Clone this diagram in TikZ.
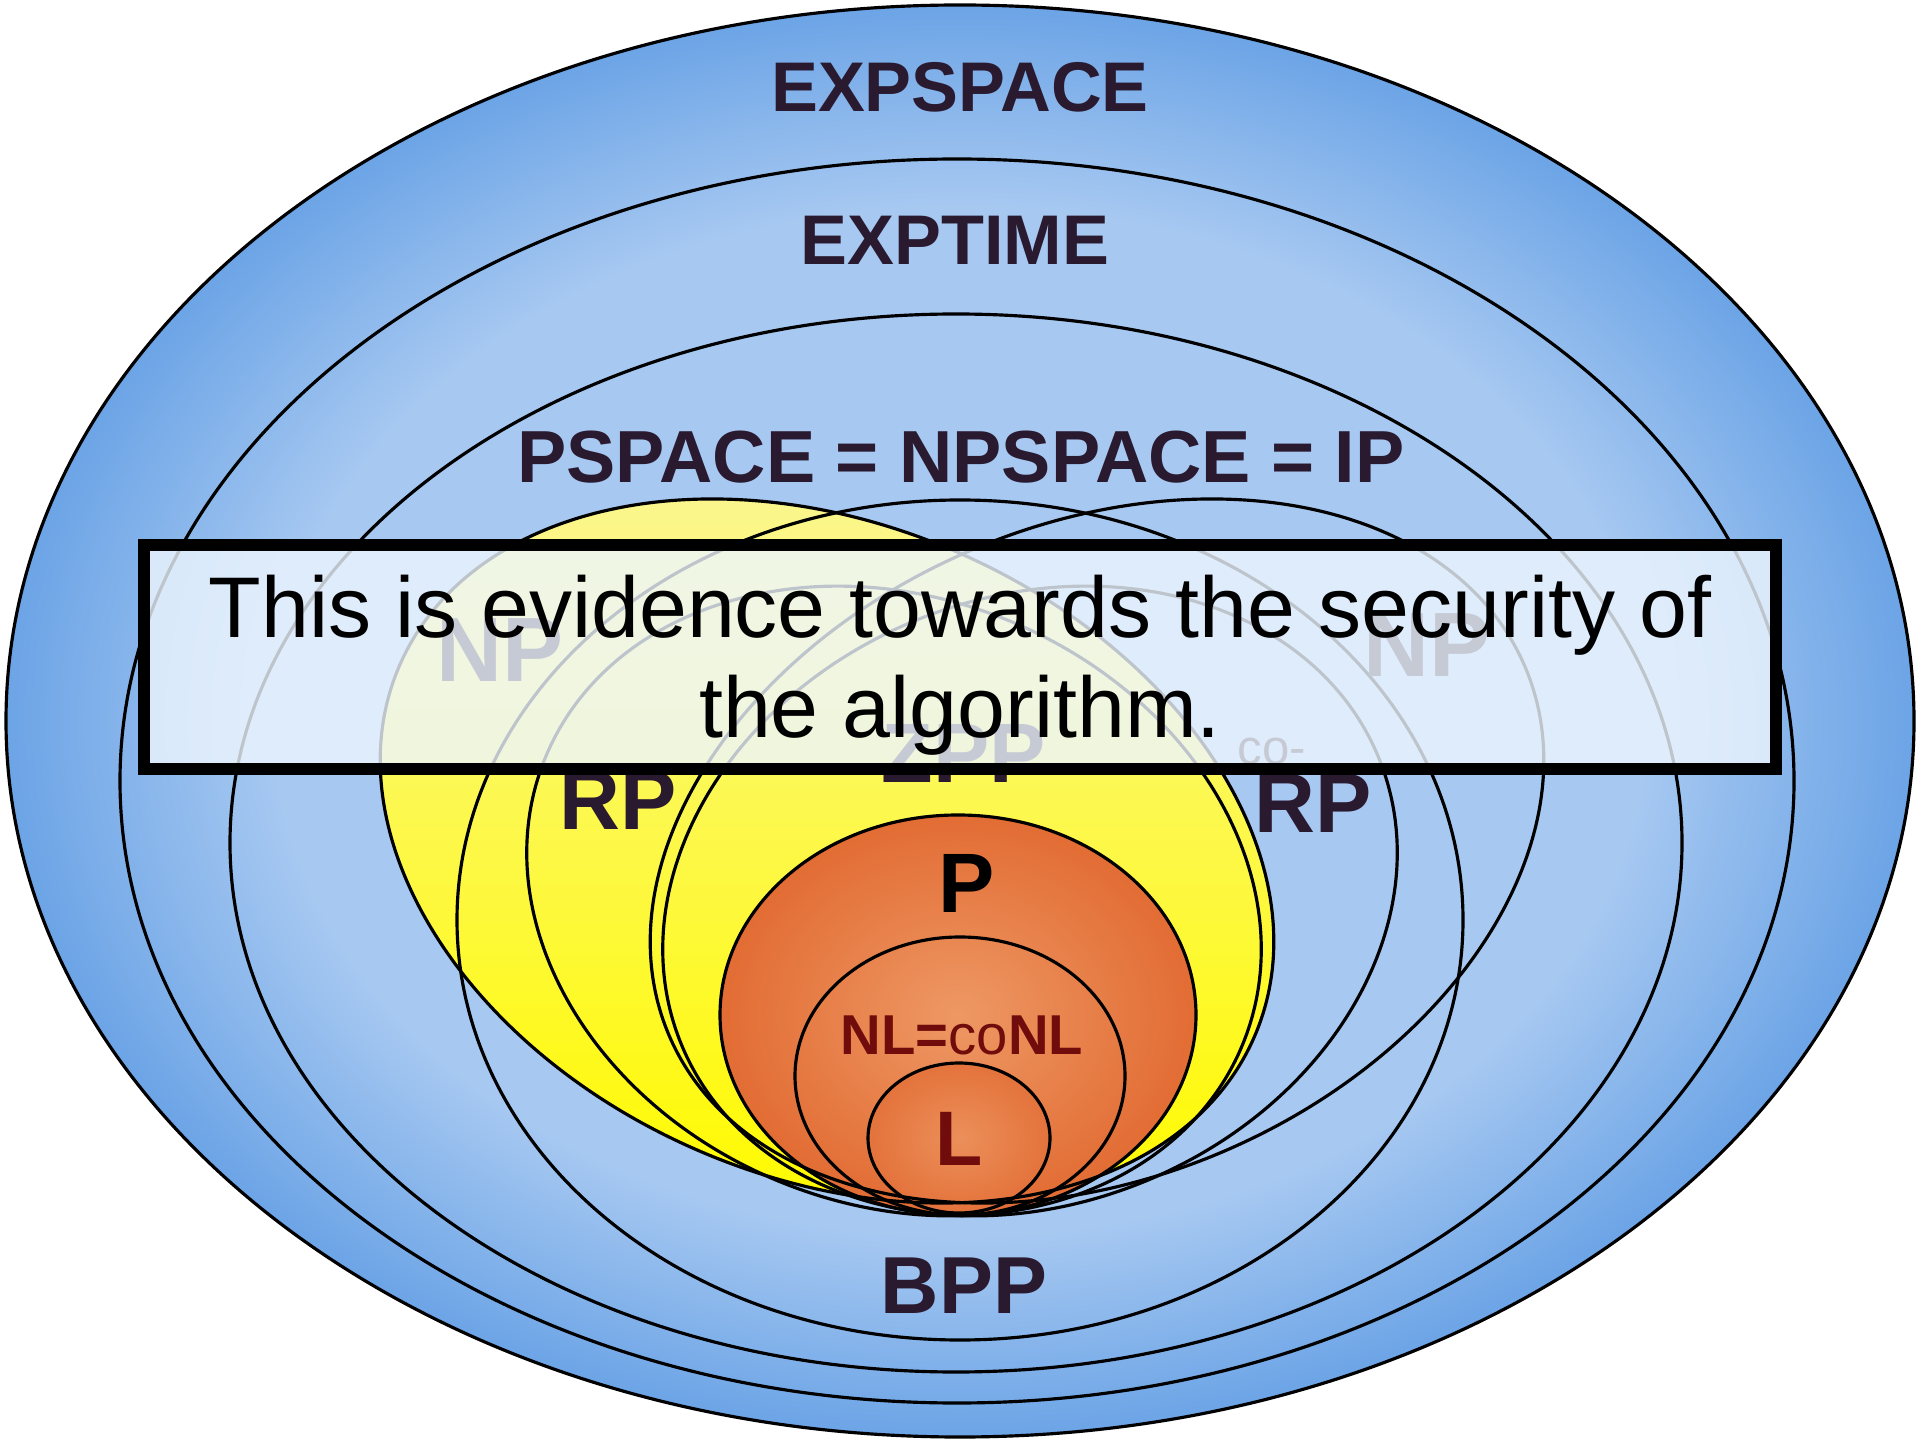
\documentclass[tikz,border=0pt]{standalone}
\usepackage{fontspec}
\setmainfont{Liberation Sans}

\definecolor{ink}{RGB}{42,26,48}
\definecolor{redink}{RGB}{112,12,12}
\definecolor{bluein}{RGB}{166,200,241}
\definecolor{blueout}{RGB}{108,164,230}
\definecolor{paleyellow}{RGB}{250,246,150}
\definecolor{brightyellow}{RGB}{255,250,0}
\definecolor{orangein}{RGB}{238,152,100}
\definecolor{orangeout}{RGB}{226,108,52}
\definecolor{boxfill}{RGB}{238,246,254}

\pgfdeclareradialshading{bluering}{\pgfpoint{0bp}{0bp}}{color(0bp)=(bluein); color(18bp)=(bluein); color(25bp)=(blueout); color(50bp)=(blueout)}

\tikzset{
  cls/.style={draw=black, line width=0.9pt},
  lbl/.style={text=ink, inner sep=0pt, font=\fontsize{#1}{#1}\selectfont\bfseries},
  note/.style={text=ink, inner sep=0pt, font=\fontsize{#1}{#1}\selectfont},
}

\begin{document}
\begin{tikzpicture}[x=1cm, y=1cm]
\useasboundingbox (0,0) rectangle (19.2,14.4);
\fill[white] (0,0) rectangle (19.2,14.4);

% fills
\shade[shading=bluering] (9.60,7.19) ellipse (9.54 and 7.16);
\fill[top color=paleyellow, bottom color=brightyellow, rotate around={-23.5:(8.27,5.89)}] (8.27,5.89) ellipse (4.66 and 3.26);
\shade[inner color=orangein, outer color=orangeout] (9.58,4.25) ellipse (2.38 and 2.00);
\shade[inner color=orangein!80!orangeout, outer color=orangeout!85!orangein] (9.59,3.02) ellipse (0.91 and 0.75);

% class outlines
\draw[cls] (9.60,7.19) ellipse (9.54 and 7.16);
\draw[cls] (9.57,6.59) ellipse (8.37 and 6.22);
\draw[cls] (9.56,5.97) ellipse (7.26 and 5.29);
\draw[cls] (9.60,5.20) ellipse (5.03 and 4.20);
\draw[cls, rotate around={23.5:(10.97,5.89)}] (10.97,5.89) ellipse (4.66 and 3.26);
\draw[cls, rotate around={-23.5:(8.27,5.89)}] (8.27,5.89) ellipse (4.66 and 3.26);
\draw[cls, rotate around={22.4:(10.30,5.39)}] (10.30,5.39) ellipse (3.77 and 3.03);
\draw[cls, rotate around={-22.4:(8.94,5.39)}] (8.94,5.39) ellipse (3.77 and 3.03);
\draw[cls] (9.58,4.25) ellipse (2.38 and 2.00);
\draw[cls] (9.60,3.64) ellipse (1.65 and 1.39);
\draw[cls] (9.59,3.02) ellipse (0.91 and 0.75);

% labels
\node[lbl=20] (expspace) at (9.60,13.53) {EXPSPACE};
\node[lbl=20] (exptime) at (9.55,12.00) {EXPTIME};
\node[lbl=21] (pspace) at (9.61,9.83) {PSPACE = NPSPACE = IP};
\node[lbl=26] (np) at (5.00,7.90) {NP};
\node[lbl=26] (conp) at (14.27,7.95) {NP};
\node[lbl=24] (rp) at (6.18,6.40) {RP};
\node[note=14] (corpco) at (12.72,6.88) {co-};
\node[lbl=24] (corp) at (13.13,6.37) {RP};
\node[lbl=24] (zpp) at (9.64,6.87) {ZPP};
\node[lbl=24, text=black] (p) at (9.67,5.57) {P};
\node[lbl=16, text=redink] (nl) at (9.62,4.05) {NL={\mdseries co}NL};
\node[lbl=22, text=redink] (l) at (9.59,3.01) {L};
\node[lbl=23] (bpp) at (9.64,1.54) {BPP};

% remark box
\draw[line width=3.4pt, fill=boxfill, fill opacity=0.8] (1.44,6.71) rectangle (17.76,8.95);
\node[anchor=base, inner sep=0pt, font=\fontsize{24.5}{28}\selectfont] (lineA) at (9.60,8.02) {This is evidence towards the security of};
\node[anchor=base, inner sep=0pt, font=\fontsize{24.5}{28}\selectfont] (lineB) at (9.60,7.02) {the algorithm.};
\end{tikzpicture}
\end{document}
